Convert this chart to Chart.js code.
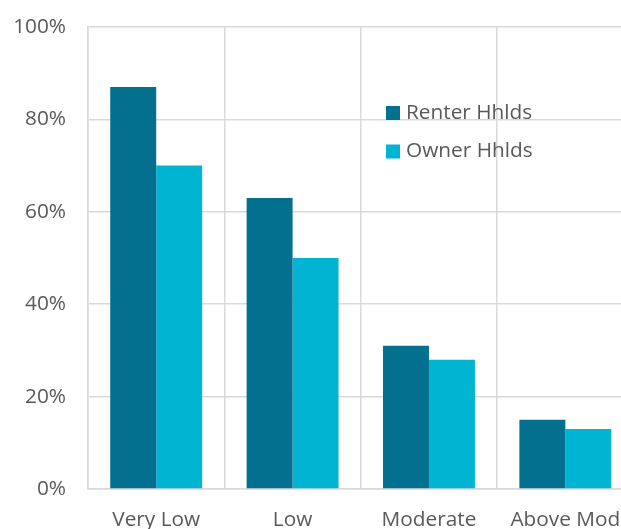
<!DOCTYPE html>
<html>
<head>
<meta charset="utf-8">
<script src="https://cdn.jsdelivr.net/npm/chart.js@4/dist/chart.umd.min.js"></script>
<style>
    html, body { margin: 0; padding: 0; background: #fff; overflow: hidden; }
    #wrap { position: relative; width: 640px; height: 529px; }
</style>
</head>
<body>
<div id="wrap"><canvas id="chart"></canvas></div>
<script>
(function () {
    'use strict';

    const CATEGORIES = ['Very Low', 'Low', 'Moderate', 'Above Mod'];
    const RENTER_VALUES = [87, 63, 31, 15];
    const OWNER_VALUES = [70, 50, 28, 13];
    const SERIES_NAMES = ['Renter Hhlds', 'Owner Hhlds'];
    const Y_TICKS = [0, 20, 40, 60, 80, 100];

    const TEXT_COLOR = '#595959';
    const GRID_COLOR = '#d9d9d9';
    const FONT = { family: '"Open Sans", sans-serif', size: 20.8 };

    /** Leyenda dibujada dentro del área del gráfico */
    const insideLegend = {
        id: 'insideLegend',
        afterDraw(chart) {
            const ctx = chart.ctx;
            ctx.save();
            ctx.font = `${FONT.size}px ${FONT.family}`;
            ctx.textBaseline = 'middle';
            chart.data.datasets.forEach((ds, i) => {
                const y = 113 + i * 38.5;
                ctx.fillStyle = ds.backgroundColor;
                ctx.fillRect(386, y - 7, 14, 14);
                ctx.fillStyle = TEXT_COLOR;
                ctx.fillText(ds.label, 406, y);
            });
            ctx.restore();
        }
    };

    new Chart(document.getElementById('chart'), {
        type: 'bar',
        data: {
            labels: CATEGORIES,
            datasets: [
                { label: SERIES_NAMES[0], data: RENTER_VALUES, backgroundColor: '#03708f' },
                { label: SERIES_NAMES[1], data: OWNER_VALUES, backgroundColor: '#00b4d2' }
            ]
        },
        options: {
            responsive: true,
            maintainAspectRatio: false,
            animation: false,
            layout: { padding: { top: 27, right: 6, left: 0, bottom: 0 } },
            datasets: { bar: { categoryPercentage: 0.674, barPercentage: 1 } },
            plugins: { legend: { display: false }, tooltip: { enabled: false } },
            scales: {
                x: {
                    grid: { color: GRID_COLOR, lineWidth: 1.5, drawTicks: false, offset: true },
                    border: { color: GRID_COLOR, width: 1.5 },
                    ticks: { color: TEXT_COLOR, font: FONT, padding: 19, maxRotation: 0 },
                    afterFit: s => { s.height = 40; }
                },
                y: {
                    min: 0,
                    max: 100,
                    afterBuildTicks: s => { s.ticks = Y_TICKS.map(v => ({ value: v })); },
                    grid: { color: GRID_COLOR, lineWidth: 1.5, drawTicks: false },
                    border: { color: GRID_COLOR, width: 1.5 },
                    ticks: { color: TEXT_COLOR, font: FONT, padding: 22, callback: v => v + '%' },
                    afterFit: s => { s.width = 88; s.paddingTop = 0; s.paddingBottom = 0; }
                }
            }
        },
        plugins: [insideLegend]
    });
})();
</script>
</body>
</html>
